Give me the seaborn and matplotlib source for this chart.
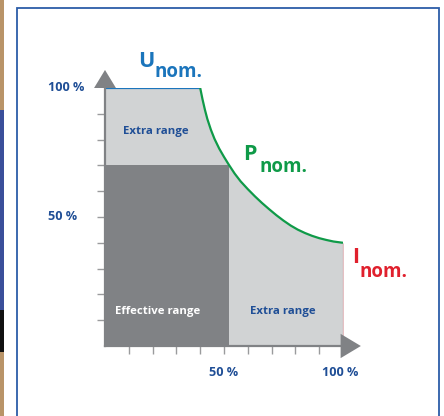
import numpy as np
import matplotlib
matplotlib.use("Agg")
import matplotlib.pyplot as plt
import seaborn as sns
from matplotlib.patches import Polygon, Rectangle

# Operating range values (fractions of nominal)
u_nom_x = [0.0, 0.40]
u_nom_y = [1.0, 1.0]
p_nom_x = [0.40, 0.41, 0.42, 0.43, 0.445, 0.46, 0.48, 0.50, 0.52, 0.545, 0.57, 0.60, 0.63,
           0.66, 0.69, 0.72, 0.75, 0.78, 0.81, 0.84, 0.87, 0.90, 0.93, 0.96, 1.00]
p_nom_y = [1.000, 0.955, 0.915, 0.880, 0.838, 0.803, 0.765, 0.733, 0.703, 0.668, 0.638, 0.608, 0.580,
           0.554, 0.530, 0.507, 0.486, 0.467, 0.451, 0.438, 0.427, 0.418, 0.411, 0.405, 0.400]
i_nom_x = [1.0, 1.0]
i_nom_y = [0.0, 0.40]
effective_x = 0.52
effective_y = 0.70
tick_pos = [0.1, 0.2, 0.3, 0.4, 0.5, 0.6, 0.7, 0.8, 0.9]
x_tick_pos = tick_pos + [1.0]

BLUE = "#1b75bc"
DARK_BLUE = "#1f4e96"
GREEN = "#0f9a48"
RED = "#e0202d"
LIGHT = "#d1d3d4"
DARK = "#808285"
AXIS = "#808285"

sns.set_theme(style="white")
plt.rcParams['font.family'] = ['Open Sans', 'DejaVu Sans']

fig = plt.figure(figsize=(4.44, 4.16), dpi=100)
ax = fig.add_axes([105 / 444, 70 / 416, 238 / 444, 258 / 416])
ax.set_xlim(0, 1)
ax.set_ylim(0, 1)
ax.patch.set_alpha(0)

# outer frame and photo strip at left edge
fig.patches.append(Rectangle((17 / 444, -0.02), 422 / 444, 1.02 - 8 / 416, transform=fig.transFigure,
                             fill=False, edgecolor="#2c5da8", linewidth=1.3))
fig.patches.append(Rectangle((0, 0), 3.5 / 444, 1, transform=fig.transFigure, color="#b99468", lw=0))
fig.patches.append(Rectangle((0, 1 - 310 / 416), 3.5 / 444, 200 / 416, transform=fig.transFigure,
                             color="#3a4f9a", lw=0))
fig.patches.append(Rectangle((0, 1 - 352 / 416), 3.5 / 444, 42 / 416, transform=fig.transFigure,
                             color="#111111", lw=0))

# areas
area_x = [0.0] + p_nom_x
area_y = [1.0] + p_nom_y
ax.fill_between(area_x, 0, area_y, color=LIGHT, lw=0, zorder=1)
ax.add_patch(Rectangle((0, 0), effective_x, effective_y, color=DARK, lw=0, zorder=2))

# limit lines
sns.lineplot(x=u_nom_x, y=u_nom_y, color=BLUE, lw=1.6, ax=ax, zorder=4)
sns.lineplot(x=p_nom_x, y=p_nom_y, color=GREEN, lw=1.6, ax=ax, sort=False, zorder=4)
sns.lineplot(x=i_nom_x, y=i_nom_y, color=RED, lw=1.6, ax=ax, zorder=4)
for ln in ax.lines:
    ln.set_solid_capstyle("butt")
    ln.set_solid_joinstyle("round")

# axes with arrows
for side in ["top", "right"]:
    ax.spines[side].set_visible(False)
for side in ["left", "bottom"]:
    ax.spines[side].set_color(AXIS)
    ax.spines[side].set_linewidth(1.6)
    ax.spines[side].set_zorder(5)
ax.set_xticks(x_tick_pos)
ax.set_yticks(tick_pos)
ax.set_xticklabels([])
ax.set_yticklabels([])
ax.tick_params(axis="both", direction="out", length=6, width=1.0, color="#9a9b9d", bottom=True, left=True)

ax.add_patch(Polygon([(-0.046, 1.0), (0.046, 1.0), (0.0, 1.07)], closed=True, color=AXIS,
                     lw=0, clip_on=False, zorder=6))
ax.add_patch(Polygon([(0.99, -0.047), (0.99, 0.047), (1.075, 0.0)], closed=True, color=AXIS,
                     lw=0, clip_on=False, zorder=6))

# tick labels
lab = dict(color=DARK_BLUE, fontsize=9.1, fontweight="bold")
ax.text(-0.239, 1.0, "100 %", ha="left", va="center", **lab)
ax.text(-0.239, 0.5, "50 %", ha="left", va="center", **lab)
ax.text(0.5, -0.101, "50 %", ha="center", va="center", **lab)
ax.text(0.99, -0.101, "100 %", ha="center", va="center", **lab)

# region labels
ax.text(0.214, 0.833, "Extra range", ha="center", va="center", color=DARK_BLUE,
        fontsize=8.2, fontweight="bold", zorder=7)
ax.text(0.223, 0.132, "Effective range", ha="center", va="center", color="white",
        fontsize=8.2, fontweight="bold", zorder=7)
ax.text(0.748, 0.132, "Extra range", ha="center", va="center", color=DARK_BLUE,
        fontsize=8.2, fontweight="bold", zorder=7)

# nominal labels
big = dict(fontsize=15.5, fontweight="bold", ha="left", va="baseline", clip_on=False)
sub = dict(fontsize=13.5, fontweight="bold", ha="left", va="baseline", clip_on=False)
ax.text(0.139, 1.081, "U", color=BLUE, **big)
ax.text(0.21, 1.043, "nom.", color=BLUE, **sub)
ax.text(0.58, 0.721, "P", color=GREEN, **big)
ax.text(0.651, 0.674, "nom.", color=GREEN, **sub)
ax.text(1.038, 0.322, "I", color=RED, **big)
ax.text(1.071, 0.267, "nom.", color=RED, **sub)

fig.savefig("out.png", dpi=100)
